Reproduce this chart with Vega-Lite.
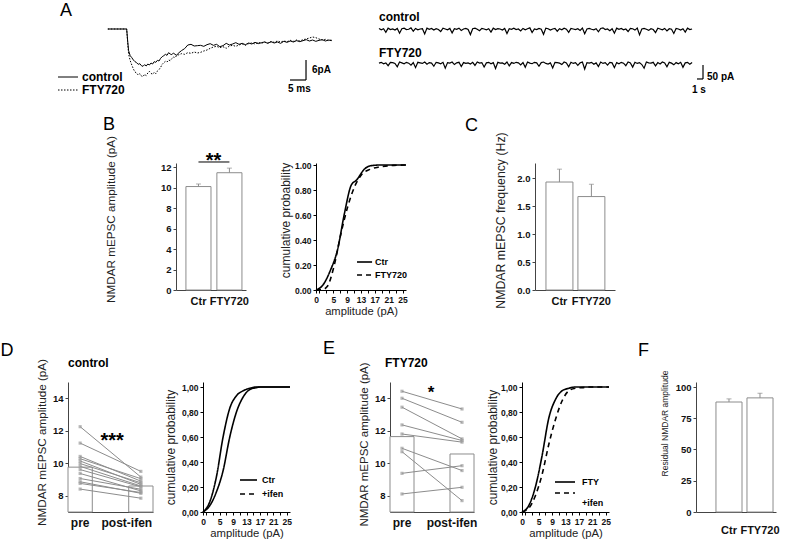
{
"$schema":"https://vega.github.io/schema/vega-lite/v6.json",
"padding":{"top":-3,"left":0,"right":0,"bottom":0},
"background":"white",
"config":{"font":"Liberation Sans","view":{"stroke":null},
"axis":{"labelFont":"Liberation Sans","titleFont":"Liberation Sans","labelFontWeight":"bold","titleFontWeight":"normal","labelColor":"#111","titleColor":"#222","domainColor":"#444","tickColor":"#444","grid":false,"tickSize":3,"labelPadding":2,"labelFlush":false,"labelBound":false}},
"datasets":{
"avg":[{"t":-6,"ctl":0,"fty":0},{"t":-0.1,"ctl":0,"fty":0},{"t":0.2,"ctl":-3.5,"fty":-4},{"t":0.5,"ctl":-6.5,"fty":-7.5},{"t":1,"ctl":-8.0,"fty":-9.5},{"t":1.5,"ctl":-8.6,"fty":-10.8},{"t":2,"ctl":-9.3,"fty":-12},{"t":2.5,"ctl":-9.8,"fty":-12.9},{"t":3,"ctl":-10.1,"fty":-13.2},{"t":3.5,"ctl":-10.6,"fty":-13.8},{"t":4,"ctl":-10.4,"fty":-13.4},{"t":4.5,"ctl":-11.0,"fty":-14.1},{"t":5,"ctl":-11.2,"fty":-14.3},{"t":5.5,"ctl":-10.7,"fty":-13.6},{"t":6,"ctl":-11.1,"fty":-14.0},{"t":6.5,"ctl":-10.5,"fty":-13.2},{"t":7,"ctl":-10.8,"fty":-12.7},{"t":7.5,"ctl":-10.2,"fty":-13.3},{"t":8,"ctl":-10.5,"fty":-13.6},{"t":8.5,"ctl":-9.8,"fty":-13.0},{"t":9,"ctl":-10.0,"fty":-13.4},{"t":9.5,"ctl":-9.4,"fty":-12.6},{"t":10,"ctl":-9.6,"fty":-12.2},{"t":10.5,"ctl":-8.8,"fty":-11.5},{"t":11,"ctl":-8.3,"fty":-10.6},{"t":11.5,"ctl":-8.0,"fty":-10.1},{"t":12,"ctl":-7.6,"fty":-9.7},{"t":12.5,"ctl":-7.9,"fty":-9.9},{"t":13,"ctl":-7.1,"fty":-9.3},{"t":13.5,"ctl":-7.5,"fty":-9.5},{"t":14,"ctl":-7.7,"fty":-8.9},{"t":14.5,"ctl":-7.2,"fty":-8.4},{"t":15,"ctl":-7.6,"fty":-8.6},{"t":15.5,"ctl":-7.9,"fty":-8.0},{"t":16,"ctl":-7.3,"fty":-7.8},{"t":17,"ctl":-6.5,"fty":-7.4},{"t":18,"ctl":-5.9,"fty":-7.6},{"t":19,"ctl":-4.8,"fty":-7.1},{"t":20,"ctl":-4.6,"fty":-7.3},{"t":21,"ctl":-5.1,"fty":-6.9},{"t":22,"ctl":-5.0,"fty":-7.2},{"t":23,"ctl":-4.9,"fty":-7.0},{"t":24,"ctl":-5.2,"fty":-6.6},{"t":25,"ctl":-4.7,"fty":-6.3},{"t":26,"ctl":-4.4,"fty":-5.8},{"t":27,"ctl":-4.9,"fty":-5.4},{"t":28,"ctl":-4.6,"fty":-5.2},{"t":29,"ctl":-5.3,"fty":-5.6},{"t":30,"ctl":-5.0,"fty":-5.3},{"t":31,"ctl":-4.3,"fty":-5.8},{"t":32,"ctl":-4.8,"fty":-5.1},{"t":33,"ctl":-4.5,"fty":-4.9},{"t":34,"ctl":-4.1,"fty":-5.2},{"t":35,"ctl":-4.6,"fty":-4.8},{"t":36,"ctl":-4.3,"fty":-4.5},{"t":37,"ctl":-4.7,"fty":-4.9},{"t":38,"ctl":-4.2,"fty":-4.4},{"t":39,"ctl":-4.5,"fty":-4.2},{"t":40,"ctl":-4.0,"fty":-4.5},{"t":41,"ctl":-4.4,"fty":-4.0},{"t":42,"ctl":-4.1,"fty":-4.3},{"t":43,"ctl":-3.9,"fty":-3.9},{"t":44,"ctl":-4.3,"fty":-4.2},{"t":45,"ctl":-3.8,"fty":-3.8},{"t":46,"ctl":-4.2,"fty":-4.0},{"t":47,"ctl":-3.9,"fty":-3.6},{"t":48,"ctl":-4.3,"fty":-3.9},{"t":49,"ctl":-3.7,"fty":-3.6},{"t":50,"ctl":-4.0,"fty":-3.8},{"t":51,"ctl":-3.6,"fty":-3.4},{"t":52,"ctl":-3.9,"fty":-3.7},{"t":53,"ctl":-3.5,"fty":-3.3},{"t":54,"ctl":-3.8,"fty":-3.6},{"t":55,"ctl":-3.5,"fty":-3.2},{"t":56,"ctl":-3.2,"fty":-3.0},{"t":57,"ctl":-3.6,"fty":-2.7},{"t":58,"ctl":-3.3,"fty":-2.4},{"t":59,"ctl":-3.7,"fty":-2.6},{"t":60,"ctl":-3.4,"fty":-3.0},{"t":61,"ctl":-3.2,"fty":-3.3},{"t":62,"ctl":-3.6,"fty":-3.1},{"t":63,"ctl":-3.3,"fty":-3.5},{"t":64,"ctl":-3.5,"fty":-3.3}],
"raw":[{"t":0,"ctl":2,"fty":-122},{"t":0.35,"ctl":-3,"fty":-119},{"t":0.7,"ctl":1,"fty":-124},{"t":1.05,"ctl":-12,"fty":-121},{"t":1.4,"ctl":3,"fty":-131},{"t":1.75,"ctl":-2,"fty":-119},{"t":2.1,"ctl":0,"fty":-120},{"t":2.45,"ctl":-4,"fty":-123},{"t":2.8,"ctl":2,"fty":-135},{"t":3.15,"ctl":-15,"fty":-118},
{"t":3.5,"ctl":1,"fty":-121},{"t":3.85,"ctl":3,"fty":-124},{"t":4.2,"ctl":-2,"fty":-119},{"t":4.55,"ctl":-1,"fty":-122},{"t":4.9,"ctl":4,"fty":-129},{"t":5.25,"ctl":-8,"fty":-120},{"t":5.6,"ctl":2,"fty":-138},{"t":5.95,"ctl":-3,"fty":-119},{"t":6.3,"ctl":0,"fty":-121},{"t":6.65,"ctl":1,"fty":-123},
{"t":7,"ctl":-18,"fty":-118},{"t":7.35,"ctl":3,"fty":-126},{"t":7.7,"ctl":-1,"fty":-120},{"t":8.05,"ctl":2,"fty":-122},{"t":8.4,"ctl":-4,"fty":-133},{"t":8.75,"ctl":1,"fty":-119},{"t":9.1,"ctl":-2,"fty":-121},{"t":9.45,"ctl":-9,"fty":-124},{"t":9.8,"ctl":3,"fty":-119},{"t":10.15,"ctl":0,"fty":-140},
{"t":10.5,"ctl":-3,"fty":-120},{"t":10.85,"ctl":2,"fty":-122},{"t":11.2,"ctl":-14,"fty":-118},{"t":11.55,"ctl":1,"fty":-127},{"t":11.9,"ctl":-1,"fty":-121},{"t":12.25,"ctl":3,"fty":-119},{"t":12.6,"ctl":-5,"fty":-134},{"t":12.95,"ctl":0,"fty":-120},{"t":13.3,"ctl":2,"fty":-123},{"t":13.65,"ctl":-2,"fty":-121},
{"t":14,"ctl":-20,"fty":-125},{"t":14.35,"ctl":1,"fty":-119},{"t":14.7,"ctl":3,"fty":-130},{"t":15.05,"ctl":-1,"fty":-118},{"t":15.4,"ctl":-6,"fty":-122},{"t":15.75,"ctl":2,"fty":-120},{"t":16.1,"ctl":0,"fty":-136},{"t":16.45,"ctl":-3,"fty":-121},{"t":16.8,"ctl":1,"fty":-119},{"t":17.15,"ctl":-11,"fty":-124},
{"t":17.5,"ctl":3,"fty":-120},{"t":17.85,"ctl":-2,"fty":-141},{"t":18.2,"ctl":1,"fty":-119},{"t":18.55,"ctl":0,"fty":-122},{"t":18.9,"ctl":-4,"fty":-121},{"t":19.25,"ctl":2,"fty":-126},{"t":19.6,"ctl":-16,"fty":-118},{"t":19.95,"ctl":1,"fty":-132},{"t":20.3,"ctl":-1,"fty":-120},{"t":20.65,"ctl":3,"fty":-123},
{"t":21,"ctl":-2,"fty":-119},{"t":21.35,"ctl":0,"fty":-121},{"t":21.7,"ctl":-7,"fty":-128},{"t":22.05,"ctl":2,"fty":-120},{"t":22.4,"ctl":-3,"fty":-137},{"t":22.75,"ctl":1,"fty":-118},{"t":23.1,"ctl":4,"fty":-122},{"t":23.45,"ctl":-13,"fty":-124},{"t":23.8,"ctl":0,"fty":-119},{"t":24.15,"ctl":-2,"fty":-121},
{"t":24.5,"ctl":2,"fty":-133},{"t":24.85,"ctl":-1,"fty":-120},{"t":25.2,"ctl":-19,"fty":-118},{"t":25.55,"ctl":3,"fty":-123},{"t":25.9,"ctl":1,"fty":-125},{"t":26.25,"ctl":-4,"fty":-121},{"t":26.6,"ctl":0,"fty":-139},{"t":26.95,"ctl":2,"fty":-119},{"t":27.3,"ctl":-8,"fty":-120},{"t":27.65,"ctl":1,"fty":-122},
{"t":28,"ctl":-3,"fty":-127},{"t":28.35,"ctl":3,"fty":-118},{"t":28.7,"ctl":-1,"fty":-121},{"t":29.05,"ctl":-12,"fty":-135},{"t":29.4,"ctl":2,"fty":-119},{"t":29.75,"ctl":0,"fty":-123},{"t":30.1,"ctl":-2,"fty":-120},{"t":30.45,"ctl":1,"fty":-130},{"t":30.8,"ctl":-5,"fty":-121},{"t":31.15,"ctl":3,"fty":-118},
{"t":31.5,"ctl":-17,"fty":-143},{"t":31.85,"ctl":0,"fty":-120},{"t":32.2,"ctl":2,"fty":-122},{"t":32.55,"ctl":-1,"fty":-119},{"t":32.9,"ctl":-3,"fty":-126},{"t":33.25,"ctl":1,"fty":-121},{"t":33.6,"ctl":-10,"fty":-134},{"t":33.95,"ctl":2,"fty":-118},{"t":34.3,"ctl":4,"fty":-123},{"t":34.65,"ctl":-2,"fty":-120},
{"t":35,"ctl":0,"fty":-129},{"t":35.35,"ctl":-6,"fty":-119},{"t":35.7,"ctl":1,"fty":-121},{"t":36.05,"ctl":-15,"fty":-138},{"t":36.4,"ctl":3,"fty":-120},{"t":36.75,"ctl":-1,"fty":-124},{"t":37.1,"ctl":2,"fty":-119},{"t":37.45,"ctl":-3,"fty":-122},{"t":37.8,"ctl":0,"fty":-131},{"t":38.15,"ctl":-9,"fty":-118},
{"t":38.5,"ctl":2,"fty":-121},{"t":38.85,"ctl":1,"fty":-136},{"t":39.2,"ctl":-4,"fty":-119},{"t":39.55,"ctl":3,"fty":-123},{"t":39.9,"ctl":-21,"fty":-120},{"t":40.25,"ctl":0,"fty":-127},{"t":40.6,"ctl":2,"fty":-140},{"t":40.95,"ctl":-1,"fty":-118},{"t":41.3,"ctl":-5,"fty":-121},{"t":41.65,"ctl":1,"fty":-122},
{"t":42,"ctl":-2,"fty":-119},{"t":42.35,"ctl":-13,"fty":-132},{"t":42.7,"ctl":3,"fty":-120},{"t":43.05,"ctl":0,"fty":-125},{"t":43.4,"ctl":-3,"fty":-118},{"t":43.75,"ctl":2,"fty":-121},{"t":44.1,"ctl":-7,"fty":-135},{"t":44.45,"ctl":1,"fty":-119},{"t":44.8,"ctl":-1,"fty":-122},{"t":45.15,"ctl":-16,"fty":-128},
{"t":45.5,"ctl":2,"fty":-120},{"t":45.85,"ctl":0,"fty":-124},{"t":46.2,"ctl":-4,"fty":-119},{"t":46.55,"ctl":1,"fty":-137},{"t":46.9,"ctl":-11,"fty":-121},{"t":47.25,"ctl":3,"fty":-119},{"t":47.6,"ctl":-2,"fty":-126},{"t":47.95,"ctl":0,"fty":-120}],
"barB":[{"group":"Ctr","mean":10.1,"upper":10.35},{"group":"FTY720","mean":11.45,"upper":11.9}],
"barC":[{"group":"Ctr","mean":1.93,"upper":2.16},{"group":"FTY720","mean":1.67,"upper":1.89}],
"barF":[{"group":"Ctr","mean":88,"upper":90.5},{"group":"FTY720","mean":91.3,"upper":95}],
"cumB":[{"series":"Ctr","amp":0,"p":0},{"series":"Ctr","amp":2,"p":0.04},{"series":"Ctr","amp":4.2,"p":0.16},{"series":"Ctr","amp":6.2,"p":0.32},{"series":"Ctr","amp":8.2,"p":0.61},{"series":"Ctr","amp":10.2,"p":0.84},{"series":"Ctr","amp":11.7,"p":0.88},{"series":"Ctr","amp":14.1,"p":0.97},{"series":"Ctr","amp":16,"p":0.995},{"series":"Ctr","amp":18.6,"p":1},{"series":"Ctr","amp":26,"p":1},
{"series":"FTY720","amp":0,"p":0},{"series":"FTY720","amp":2,"p":0.005},{"series":"FTY720","amp":3.3,"p":0.03},{"series":"FTY720","amp":5.2,"p":0.19},{"series":"FTY720","amp":7.2,"p":0.45},{"series":"FTY720","amp":9.2,"p":0.67},{"series":"FTY720","amp":11.2,"p":0.83},{"series":"FTY720","amp":13.1,"p":0.92},{"series":"FTY720","amp":15.6,"p":0.965},{"series":"FTY720","amp":18.6,"p":0.985},{"series":"FTY720","amp":22.5,"p":0.997},{"series":"FTY720","amp":26,"p":1}],
"cumD":[{"series":"Ctr","amp":0,"p":0},{"series":"Ctr","amp":2,"p":0.05},{"series":"Ctr","amp":4,"p":0.16},{"series":"Ctr","amp":6,"p":0.33},{"series":"Ctr","amp":8,"p":0.6},{"series":"Ctr","amp":10,"p":0.8},{"series":"Ctr","amp":12,"p":0.92},{"series":"Ctr","amp":14,"p":0.98},{"series":"Ctr","amp":16,"p":0.995},{"series":"Ctr","amp":17,"p":1},{"series":"Ctr","amp":26,"p":1},
{"series":"+ifen","amp":0,"p":0},{"series":"+ifen","amp":2,"p":0.08},{"series":"+ifen","amp":4,"p":0.28},{"series":"+ifen","amp":6,"p":0.6},{"series":"+ifen","amp":8,"p":0.83},{"series":"+ifen","amp":10,"p":0.93},{"series":"+ifen","amp":12,"p":0.97},{"series":"+ifen","amp":14,"p":0.99},{"series":"+ifen","amp":16,"p":1},{"series":"+ifen","amp":26,"p":1}],
"cumE":[{"series":"FTY","amp":0,"p":0},{"series":"FTY","amp":2,"p":0.03},{"series":"FTY","amp":4,"p":0.13},{"series":"FTY","amp":6,"p":0.3},{"series":"FTY","amp":8,"p":0.54},{"series":"FTY","amp":10,"p":0.74},{"series":"FTY","amp":12,"p":0.89},{"series":"FTY","amp":14,"p":0.97},{"series":"FTY","amp":16,"p":0.99},{"series":"FTY","amp":18,"p":0.995},{"series":"FTY","amp":20,"p":1},{"series":"FTY","amp":26,"p":1},
{"series":"+ifen","amp":0,"p":0},{"series":"+ifen","amp":2,"p":0.05},{"series":"+ifen","amp":4,"p":0.2},{"series":"+ifen","amp":6,"p":0.45},{"series":"+ifen","amp":8,"p":0.75},{"series":"+ifen","amp":10,"p":0.9},{"series":"+ifen","amp":12,"p":0.97},{"series":"+ifen","amp":14,"p":0.99},{"series":"+ifen","amp":16,"p":1},{"series":"+ifen","amp":26,"p":1}],
"barD":[{"cond":"pre","mean":9.76},{"cond":"post-ifen","mean":8.6}],
"pairD":[{"cell":1,"cond":"pre","amp":12.25},{"cell":1,"cond":"post-ifen","amp":9.15},{"cell":2,"cond":"pre","amp":11.24},{"cell":2,"cond":"post-ifen","amp":9.5},{"cell":3,"cond":"pre","amp":10.42},{"cell":3,"cond":"post-ifen","amp":8.9},{"cell":4,"cond":"pre","amp":10.28},{"cell":4,"cond":"post-ifen","amp":9.05},{"cell":5,"cond":"pre","amp":10.14},{"cell":5,"cond":"post-ifen","amp":8.7},{"cell":6,"cond":"pre","amp":9.98},{"cell":6,"cond":"post-ifen","amp":8.8},{"cell":7,"cond":"pre","amp":9.81},{"cell":7,"cond":"post-ifen","amp":8.6},{"cell":8,"cond":"pre","amp":9.61},{"cell":8,"cond":"post-ifen","amp":8.55},{"cell":9,"cond":"pre","amp":9.37},{"cell":9,"cond":"post-ifen","amp":8.3},{"cell":10,"cond":"pre","amp":9.06},{"cell":10,"cond":"post-ifen","amp":8.4},{"cell":11,"cond":"pre","amp":8.86},{"cell":11,"cond":"post-ifen","amp":8.15},{"cell":12,"cond":"pre","amp":8.76},{"cell":12,"cond":"post-ifen","amp":8.2},{"cell":13,"cond":"pre","amp":8.41},{"cell":13,"cond":"post-ifen","amp":7.85}],
"barE":[{"cond":"pre","mean":11.64},{"cond":"post-ifen","mean":10.57}],
"pairE":[{"cell":1,"cond":"pre","amp":14.43},{"cell":1,"cond":"post-ifen","amp":13.34},{"cell":2,"cond":"pre","amp":14.0},{"cell":2,"cond":"post-ifen","amp":12.52},{"cell":3,"cond":"pre","amp":13.45},{"cell":3,"cond":"post-ifen","amp":11.5},{"cell":4,"cond":"pre","amp":12.36},{"cell":4,"cond":"post-ifen","amp":11.4},{"cell":5,"cond":"pre","amp":11.8},{"cell":5,"cond":"post-ifen","amp":11.3},{"cell":6,"cond":"pre","amp":10.92},{"cell":6,"cond":"post-ifen","amp":9.55},{"cell":7,"cond":"pre","amp":10.71},{"cell":7,"cond":"post-ifen","amp":7.7},{"cell":8,"cond":"pre","amp":9.38},{"cell":8,"cond":"post-ifen","amp":9.85},{"cell":9,"cond":"pre","amp":8.11},{"cell":9,"cond":"post-ifen","amp":8.52}]
},
"spacing":0,
"bounds":"full",
"vconcat":[
{"hconcat":[
{"width":55,"height":116,"data":{"values":[{}]},"mark":{"type":"point","opacity":0}},
{"width":285,"height":95,"layer":[
 {"data":{"name":"avg"},"mark":{"type":"line","color":"black","strokeWidth":1},"encoding":{"x":{"field":"t","type":"quantitative","scale":{"domain":[-22.5,66.56],"nice":false,"zero":false},"axis":null},"y":{"field":"ctl","type":"quantitative","scale":{"domain":[-19.8,8.7],"nice":false,"zero":false},"axis":null}}},
 {"data":{"name":"avg"},"mark":{"type":"line","color":"black","strokeWidth":1,"strokeDash":[1.5,1.5]},"encoding":{"x":{"field":"t","type":"quantitative","axis":null},"y":{"field":"fty","type":"quantitative","axis":null}}},
 {"data":{"values":[{}]},"mark":{"type":"rule","color":"black","strokeWidth":1},"encoding":{"x":{"datum":-21.56,"axis":null},"x2":{"datum":-15.31},"y":{"datum":-14.4,"axis":null}}},
 {"data":{"values":[{}]},"mark":{"type":"rule","color":"black","strokeWidth":1,"strokeDash":[1.5,1.5]},"encoding":{"x":{"datum":-21.56,"axis":null},"x2":{"datum":-15.31},"y":{"datum":-18.3,"axis":null}}},
 {"data":{"values":[{}]},"mark":{"type":"text","text":"control","fontSize":12,"fontWeight":"bold","align":"left","baseline":"middle"},"encoding":{"x":{"datum":-14.06,"axis":null},"y":{"datum":-14.4,"axis":null}}},
 {"data":{"values":[{}]},"mark":{"type":"text","text":"FTY720","fontSize":12,"fontWeight":"bold","align":"left","baseline":"middle"},"encoding":{"x":{"datum":-14.06,"axis":null},"y":{"datum":-18.3,"axis":null}}},
 {"data":{"values":[{}]},"mark":{"type":"rule","color":"black","strokeWidth":1.2},"encoding":{"x":{"datum":55.94,"axis":null},"y":{"datum":-9.3,"axis":null},"y2":{"datum":-15.3}}},
 {"data":{"values":[{}]},"mark":{"type":"rule","color":"black","strokeWidth":1.2},"encoding":{"x":{"datum":50.94,"axis":null},"x2":{"datum":55.94},"y":{"datum":-15.3,"axis":null}}},
 {"data":{"values":[{}]},"mark":{"type":"text","text":"6pA","fontSize":10,"fontWeight":"bold","align":"left","baseline":"middle"},"encoding":{"x":{"datum":57.81,"axis":null},"y":{"datum":-12.3,"axis":null}}},
 {"data":{"values":[{}]},"mark":{"type":"text","text":"5 ms","fontSize":10,"fontWeight":"bold","align":"left","baseline":"middle"},"encoding":{"x":{"datum":50.31,"axis":null},"y":{"datum":-18.0,"axis":null}}},
 {"data":{"values":[{}]},"mark":{"type":"text","text":"A","fontSize":18,"align":"left","baseline":"middle"},"encoding":{"x":{"datum":-20.94,"axis":null},"y":{"datum":5.4,"axis":null}}}
]},
{"width":35,"height":1,"data":{"values":[{}]},"mark":{"type":"point","opacity":0}},
{"width":360,"height":95,"layer":[
 {"data":{"name":"raw"},"mark":{"type":"line","color":"black","strokeWidth":1.2},"encoding":{"x":{"field":"t","type":"quantitative","scale":{"domain":[-0.61,54.52],"nice":false,"zero":false},"axis":null},"y":{"field":"ctl","type":"quantitative","scale":{"domain":[-235.7,103.5],"nice":false,"zero":false},"axis":null}}},
 {"data":{"name":"raw"},"mark":{"type":"line","color":"black","strokeWidth":1.2},"encoding":{"x":{"field":"t","type":"quantitative","axis":null},"y":{"field":"fty","type":"quantitative","axis":null}}},
 {"data":{"values":[{}]},"mark":{"type":"text","text":"control","fontSize":12,"fontWeight":"bold","align":"left","baseline":"middle"},"encoding":{"x":{"datum":0,"axis":null},"y":{"datum":42.8,"axis":null}}},
 {"data":{"values":[{}]},"mark":{"type":"text","text":"FTY720","fontSize":12,"fontWeight":"bold","align":"left","baseline":"middle"},"encoding":{"x":{"datum":0,"axis":null},"y":{"datum":-85.7,"axis":null}}},
 {"data":{"values":[{}]},"mark":{"type":"rule","color":"black","strokeWidth":1.2},"encoding":{"x":{"datum":49.62,"axis":null},"y":{"datum":-128.5,"axis":null},"y2":{"datum":-178.5}}},
 {"data":{"values":[{}]},"mark":{"type":"rule","color":"black","strokeWidth":1.2},"encoding":{"x":{"datum":48.7,"axis":null},"x2":{"datum":49.62},"y":{"datum":-178.5,"axis":null}}},
 {"data":{"values":[{}]},"mark":{"type":"text","text":"50 pA","fontSize":10,"fontWeight":"bold","align":"left","baseline":"middle"},"encoding":{"x":{"datum":50.23,"axis":null},"y":{"datum":-171.4,"axis":null}}},
 {"data":{"values":[{}]},"mark":{"type":"text","text":"1 s","fontSize":10,"fontWeight":"bold","align":"left","baseline":"middle"},"encoding":{"x":{"datum":47.93,"axis":null},"y":{"datum":-217.8,"axis":null}}}
]}
],"spacing":0,"bounds":"flush"},

{"hconcat":[
{"width":176,"height":177,"data":{"values":[{}]},"mark":{"type":"point","opacity":0}},
{"width":70,"height":127,"layer":[
 {"data":{"name":"barB"},"mark":{"type":"bar","fill":"white","stroke":"#8c8c8c","strokeWidth":1},"encoding":{"x":{"field":"group","type":"nominal","scale":{"domain":["Ctr","FTY720"],"paddingInner":0.19,"paddingOuter":0.226,"align":0.71},"axis":{"title":null,"labelAngle":0,"ticks":false,"tickSize":0,"labelFontSize":11,"labelPadding":5}},"y":{"field":"mean","type":"quantitative","scale":{"domain":[0,12.4],"nice":false,"zero":false},"axis":{"title":"NMDAR mEPSC amplitude (pA)","values":[0,2,4,6,8,10,12],"tickCount":50,"format":"d","labelOverlap":false,"labelFontSize":9.5,"titleFontSize":11.7,"titlePadding":44,"titleY":56}}}},
 {"data":{"name":"barB"},"mark":{"type":"rule","color":"#8c8c8c"},"encoding":{"x":{"field":"group","type":"nominal"},"y":{"field":"mean","type":"quantitative"},"y2":{"field":"upper"}}},
 {"data":{"name":"barB"},"mark":{"type":"tick","color":"#8c8c8c","size":5,"thickness":1},"encoding":{"x":{"field":"group","type":"nominal"},"y":{"field":"upper","type":"quantitative"}}},
 {"data":{"values":[{}]},"mark":{"type":"rule","color":"#555","strokeWidth":1.5},"encoding":{"x":{"datum":"Ctr"},"x2":{"datum":"FTY720"},"y":{"datum":12.5}}},
 {"data":{"values":[{}]},"mark":{"type":"text","text":"**","fontSize":20,"fontWeight":"bold","baseline":"alphabetic","dx":15},"encoding":{"x":{"datum":"Ctr"},"y":{"datum":12.0}}},
 {"data":{"values":[{}]},"mark":{"type":"text","text":"B","fontSize":18,"align":"left","baseline":"middle","dx":-95.4,"dy":-38},"encoding":{"x":{"datum":"Ctr"},"y":{"datum":12.4}}}
]},
{"width":70,"height":1,"data":{"values":[{}]},"mark":{"type":"point","opacity":0}},
{"width":90,"height":127,"layer":[
 {"data":{"name":"cumB"},"mark":{"type":"line","color":"black","strokeWidth":1.6,"interpolate":"monotone"},"encoding":{"x":{"field":"amp","type":"quantitative","scale":{"domain":[0,26],"nice":false,"zero":false},"axis":{"title":"amplitude (pA)","values":[0,1,3,5,7,9,11,13,15,17,19,21,23,25],"tickCount":50,"format":"d","labelOverlap":false,"labelExpr":"indexof([0,5,9,13,17,21,25], datum.value) >= 0 ? datum.label : ''","labelFontSize":8.5,"titleFontSize":11.2,"titlePadding":2,"domainColor":"black","tickColor":"black"}},"y":{"field":"p","type":"quantitative","scale":{"domain":[0,1.016],"nice":false,"zero":false},"axis":{"title":"cumulative probability","values":[0,0.2,0.4,0.6,0.8,1],"tickCount":50,"labelOverlap":false,"format":".2f","labelFontSize":8.5,"titleFontSize":12,"titlePadding":2,"titleY":57,"domainColor":"black","tickColor":"black"}},"strokeDash":{"field":"series","type":"nominal","scale":{"domain":["Ctr","FTY720"],"range":[[1,0],[5,4]]},"legend":null}}},
 {"data":{"values":[{}]},"mark":{"type":"rule","color":"black","strokeWidth":1.6},"encoding":{"x":{"datum":11.85},"x2":{"datum":16.2},"y":{"datum":0.224}}},
 {"data":{"values":[{}]},"mark":{"type":"rule","color":"black","strokeWidth":1.6,"strokeDash":[5,4]},"encoding":{"x":{"datum":11.85},"x2":{"datum":16.2},"y":{"datum":0.12}}},
 {"data":{"values":[{}]},"mark":{"type":"text","text":"Ctr","fontSize":9,"fontWeight":"bold","align":"left","baseline":"middle"},"encoding":{"x":{"datum":17.05},"y":{"datum":0.224}}},
 {"data":{"values":[{}]},"mark":{"type":"text","text":"FTY720","fontSize":9,"fontWeight":"bold","align":"left","baseline":"middle"},"encoding":{"x":{"datum":17.05},"y":{"datum":0.12}}}
]},
{"width":129,"height":1,"data":{"values":[{}]},"mark":{"type":"point","opacity":0}},
{"width":80,"height":127,"layer":[
 {"data":{"name":"barC"},"mark":{"type":"bar","fill":"white","stroke":"#8c8c8c","strokeWidth":1},"encoding":{"x":{"field":"group","type":"nominal","scale":{"domain":["Ctr","FTY720"],"paddingInner":0.156,"paddingOuter":0.33,"align":0.52},"axis":{"title":null,"labelAngle":0,"ticks":false,"tickSize":0,"labelFontSize":11,"labelPadding":5}},"y":{"field":"mean","type":"quantitative","scale":{"domain":[0,2.27],"nice":false,"zero":false},"axis":{"title":"NMDAR mEPSC frequency (Hz)","values":[0,0.5,1,1.5,2],"tickCount":50,"labelOverlap":false,"format":".1f","labelFontSize":9.5,"titleFontSize":12.3,"titlePadding":9,"titleY":57}}}},
 {"data":{"name":"barC"},"mark":{"type":"rule","color":"#8c8c8c"},"encoding":{"x":{"field":"group","type":"nominal"},"y":{"field":"mean","type":"quantitative"},"y2":{"field":"upper"}}},
 {"data":{"name":"barC"},"mark":{"type":"tick","color":"#8c8c8c","size":5,"thickness":1},"encoding":{"x":{"field":"group","type":"nominal"},"y":{"field":"upper","type":"quantitative"}}},
 {"data":{"values":[{}]},"mark":{"type":"text","text":"C","fontSize":18,"align":"left","baseline":"middle","dx":-94.5,"dy":-37},"encoding":{"x":{"datum":"Ctr"},"y":{"datum":2.27}}}
]}
],"spacing":0,"bounds":"flush"},

{"hconcat":[
{"width":68,"height":1,"data":{"values":[{}]},"mark":{"type":"point","opacity":0}},
{"width":85,"height":130,"layer":[
 {"data":{"name":"barD"},"mark":{"type":"bar","fill":"white","stroke":"#8c8c8c","strokeWidth":1},"encoding":{"x":{"field":"cond","type":"nominal","scale":{"domain":["pre","post-ifen"],"paddingInner":0.6,"paddingOuter":0},"axis":{"title":null,"labelAngle":0,"ticks":false,"tickSize":0,"labelFontSize":12,"labelPadding":5,"labelOffset":{"condition":{"test":"datum.value === 'post-ifen'","value":-14},"value":0}}},"y":{"field":"mean","type":"quantitative","scale":{"domain":[7,15],"nice":false,"zero":false},"axis":{"title":"NMDAR mEPSC amplitude (pA)","values":[8,10,12,14],"tickCount":50,"format":"d","labelOverlap":false,"labelFontSize":9.5,"titleFontSize":11.7,"titlePadding":5,"titleY":60}},"y2":{"datum":7}}},
 {"data":{"name":"pairD"},"mark":{"type":"line","color":"#8c8c8c","strokeWidth":1},"encoding":{"x":{"field":"cond","type":"nominal"},"y":{"field":"amp","type":"quantitative"},"detail":{"field":"cell","type":"nominal"}}},
 {"data":{"name":"pairD"},"mark":{"type":"point","shape":"square","size":10,"filled":true,"color":"#9a9a9a"},"encoding":{"x":{"field":"cond","type":"nominal"},"y":{"field":"amp","type":"quantitative"}}},
 {"data":{"values":[{}]},"mark":{"type":"text","text":"***","fontSize":20,"fontWeight":"bold","baseline":"alphabetic","dx":32},"encoding":{"x":{"datum":"pre"},"y":{"datum":11.0}}},
 {"data":{"values":[{}]},"mark":{"type":"text","text":"control","fontSize":12,"fontWeight":"bold","align":"left","baseline":"middle","dx":-12.1,"dy":-19},"encoding":{"x":{"datum":"pre"},"y":{"datum":15}}},
 {"data":{"values":[{}]},"mark":{"type":"text","text":"D","fontSize":18,"align":"left","baseline":"middle","dx":-79.6,"dy":-31},"encoding":{"x":{"datum":"pre"},"y":{"datum":15}}}
]},
{"width":50,"height":1,"data":{"values":[{}]},"mark":{"type":"point","opacity":0}},
{"width":87,"height":130,"layer":[
 {"data":{"name":"cumD"},"mark":{"type":"line","color":"black","strokeWidth":1.6,"interpolate":"monotone"},"encoding":{"x":{"field":"amp","type":"quantitative","scale":{"domain":[0,26],"nice":false,"zero":false},"axis":{"title":"amplitude (pA)","values":[0,1,3,5,7,9,11,13,15,17,19,21,23,25],"tickCount":50,"format":"d","labelOverlap":false,"labelExpr":"indexof([0,5,9,13,17,21,25], datum.value) >= 0 ? datum.label : ''","labelFontSize":8.5,"titleFontSize":11.3,"titlePadding":2,"domainColor":"black","tickColor":"black"}},"y":{"field":"p","type":"quantitative","scale":{"domain":[0,1.04],"nice":false,"zero":false},"axis":{"title":"cumulative probability","values":[0,0.2,0.4,0.6,0.8,1],"tickCount":50,"labelOverlap":false,"labelExpr":"replace(format(datum.value, '.2f'), '.', ',')","labelFontSize":8.5,"titleFontSize":12,"titlePadding":4,"domainColor":"black","tickColor":"black"}},"strokeDash":{"field":"series","type":"nominal","scale":{"domain":["Ctr","+ifen"],"range":[[1,0],[5,4]]},"legend":null}}},
 {"data":{"values":[{}]},"mark":{"type":"rule","color":"black","strokeWidth":1.6},"encoding":{"x":{"datum":11.06},"x2":{"datum":16.14},"y":{"datum":0.256}}},
 {"data":{"values":[{}]},"mark":{"type":"rule","color":"black","strokeWidth":1.6,"strokeDash":[5,4]},"encoding":{"x":{"datum":11.06},"x2":{"datum":16.14},"y":{"datum":0.144}}},
 {"data":{"values":[{}]},"mark":{"type":"text","text":"Ctr","fontSize":9,"fontWeight":"bold","align":"left","baseline":"middle"},"encoding":{"x":{"datum":17.63},"y":{"datum":0.256}}},
 {"data":{"values":[{}]},"mark":{"type":"text","text":"+ifen","fontSize":9,"fontWeight":"bold","align":"left","baseline":"middle"},"encoding":{"x":{"datum":17.63},"y":{"datum":0.144}}}
]},
{"width":100,"height":1,"data":{"values":[{}]},"mark":{"type":"point","opacity":0}},
{"width":84,"height":130,"layer":[
 {"data":{"name":"barE"},"mark":{"type":"bar","fill":"white","stroke":"#8c8c8c","strokeWidth":1},"encoding":{"x":{"field":"cond","type":"nominal","scale":{"domain":["pre","post-ifen"],"paddingInner":0.6,"paddingOuter":0},"axis":{"title":null,"labelAngle":0,"ticks":false,"tickSize":0,"labelFontSize":12,"labelPadding":5,"labelOffset":{"condition":{"test":"datum.value === 'post-ifen'","value":-10},"value":0}}},"y":{"field":"mean","type":"quantitative","scale":{"domain":[7,15],"nice":false,"zero":false},"axis":{"title":"NMDAR mEPSC amplitude (pA)","values":[8,10,12,14],"tickCount":50,"format":"d","labelOverlap":false,"labelFontSize":9.5,"titleFontSize":11.5,"titlePadding":5,"titleY":62}},"y2":{"datum":7}}},
 {"data":{"name":"pairE"},"mark":{"type":"line","color":"#8c8c8c","strokeWidth":1},"encoding":{"x":{"field":"cond","type":"nominal"},"y":{"field":"amp","type":"quantitative"},"detail":{"field":"cell","type":"nominal"}}},
 {"data":{"name":"pairE"},"mark":{"type":"point","shape":"square","size":10,"filled":true,"color":"#9a9a9a"},"encoding":{"x":{"field":"cond","type":"nominal"},"y":{"field":"amp","type":"quantitative"}}},
 {"data":{"values":[{}]},"mark":{"type":"text","text":"*","fontSize":17,"fontWeight":"bold","baseline":"alphabetic","dx":29},"encoding":{"x":{"datum":"pre"},"y":{"datum":14.0}}},
 {"data":{"values":[{}]},"mark":{"type":"text","text":"FTY720","fontSize":12,"fontWeight":"bold","align":"left","baseline":"middle","dx":-17,"dy":-19},"encoding":{"x":{"datum":"pre"},"y":{"datum":15}}},
 {"data":{"values":[{}]},"mark":{"type":"text","text":"E","fontSize":18,"align":"left","baseline":"middle","dx":-79,"dy":-33},"encoding":{"x":{"datum":"pre"},"y":{"datum":15}}}
]},
{"width":48,"height":1,"data":{"values":[{}]},"mark":{"type":"point","opacity":0}},
{"width":87,"height":130,"layer":[
 {"data":{"name":"cumE"},"mark":{"type":"line","color":"black","strokeWidth":1.6,"interpolate":"monotone"},"encoding":{"x":{"field":"amp","type":"quantitative","scale":{"domain":[0,26],"nice":false,"zero":false},"axis":{"title":"amplitude (pA)","values":[0,1,3,5,7,9,11,13,15,17,19,21,23,25],"tickCount":50,"format":"d","labelOverlap":false,"labelExpr":"indexof([0,5,9,13,17,21,25], datum.value) >= 0 ? datum.label : ''","labelFontSize":8.5,"titleFontSize":11.3,"titlePadding":2,"domainColor":"black","tickColor":"black"}},"y":{"field":"p","type":"quantitative","scale":{"domain":[0,1.04],"nice":false,"zero":false},"axis":{"title":"cumulative probability","values":[0,0.2,0.4,0.6,0.8,1],"tickCount":50,"labelOverlap":false,"labelExpr":"replace(format(datum.value, '.2f'), '.', ',')","labelFontSize":8.5,"titleFontSize":12,"titlePadding":1,"domainColor":"black","tickColor":"black"}},"strokeDash":{"field":"series","type":"nominal","scale":{"domain":["FTY","+ifen"],"range":[[1,0],[5,4]]},"legend":null}}},
 {"data":{"values":[{}]},"mark":{"type":"rule","color":"black","strokeWidth":1.6},"encoding":{"x":{"datum":9.86},"x2":{"datum":15.84},"y":{"datum":0.24}}},
 {"data":{"values":[{}]},"mark":{"type":"rule","color":"black","strokeWidth":1.6,"strokeDash":[5,4]},"encoding":{"x":{"datum":9.86},"x2":{"datum":15.84},"y":{"datum":0.152}}},
 {"data":{"values":[{}]},"mark":{"type":"text","text":"FTY","fontSize":9,"fontWeight":"bold","align":"left","baseline":"middle"},"encoding":{"x":{"datum":17.93},"y":{"datum":0.24}}},
 {"data":{"values":[{}]},"mark":{"type":"text","text":"+ifen","fontSize":9,"fontWeight":"bold","align":"left","baseline":"middle"},"encoding":{"x":{"datum":17.93},"y":{"datum":0.072}}}
]},
{"width":87,"height":1,"data":{"values":[{}]},"mark":{"type":"point","opacity":0}},
{"width":80,"height":130,"layer":[
 {"data":{"name":"barF"},"mark":{"type":"bar","fill":"white","stroke":"#8c8c8c","strokeWidth":1},"encoding":{"x":{"field":"group","type":"nominal","scale":{"domain":["Ctr","FTY720"],"paddingInner":0.16,"paddingOuter":0.37,"align":0.87},"axis":{"title":null,"labelAngle":0,"ticks":false,"tickSize":0,"labelFontSize":11,"labelPadding":12}},"y":{"field":"mean","type":"quantitative","scale":{"domain":[0,104],"nice":false,"zero":false},"axis":{"title":"Residual NMDAR amplitude","values":[0,25,50,75,100],"tickCount":50,"format":"d","labelOverlap":false,"labelFontSize":9.5,"titleFontSize":8.5,"titlePadding":6,"titleY":41}}}},
 {"data":{"name":"barF"},"mark":{"type":"rule","color":"#8c8c8c"},"encoding":{"x":{"field":"group","type":"nominal"},"y":{"field":"mean","type":"quantitative"},"y2":{"field":"upper"}}},
 {"data":{"name":"barF"},"mark":{"type":"tick","color":"#8c8c8c","size":5,"thickness":1},"encoding":{"x":{"field":"group","type":"nominal"},"y":{"field":"upper","type":"quantitative"}}},
 {"data":{"values":[{}]},"mark":{"type":"text","text":"F","fontSize":18,"align":"left","baseline":"middle","dx":-91,"dy":-31},"encoding":{"x":{"datum":"Ctr"},"y":{"datum":104}}}
]}
],"spacing":0,"bounds":"flush"}
]
}
